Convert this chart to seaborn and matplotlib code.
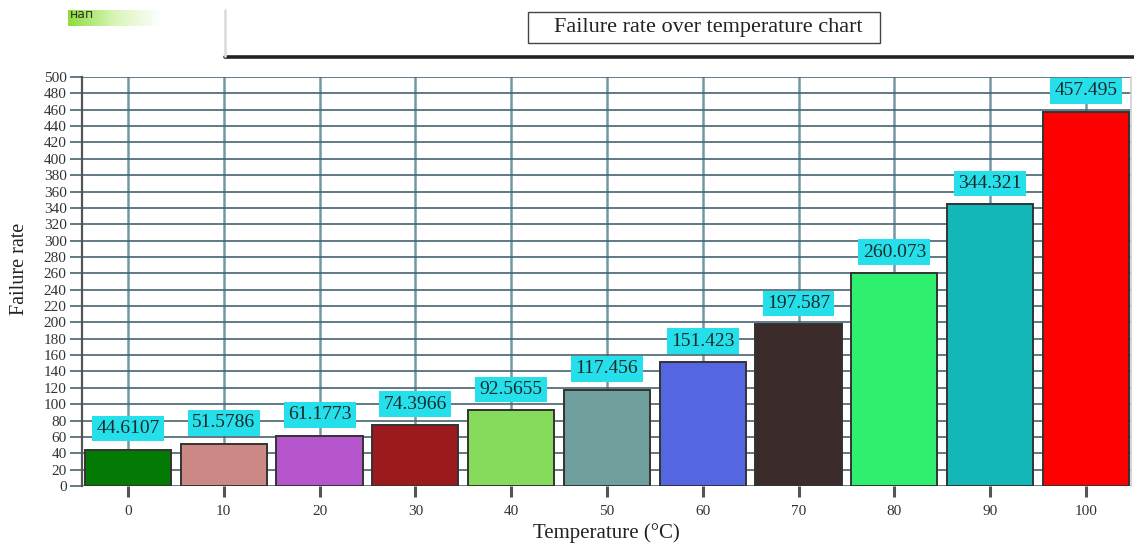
import numpy as np
import pandas as pd
import matplotlib
matplotlib.use("Agg")
import matplotlib.pyplot as plt
from matplotlib.patches import Rectangle
from matplotlib.lines import Line2D
import seaborn as sns

# Failure rate measured at each temperature step
temperatures = ["0", "10", "20", "30", "40", "50", "60", "70", "80", "90", "100"]
failure_rates = [44.6107, 51.5786, 61.1773, 74.3966, 92.5655, 117.456,
                 151.423, 197.587, 260.073, 344.321, 457.495]
bar_colors = ["#037a03", "#cc8884", "#b556cc", "#9c191d", "#86dc5a", "#6f9f9c",
              "#5467e0", "#3c2b2b", "#2ef06e", "#13b7b7", "#ff0000"]
value_labels = ["44.6107", "51.5786", "61.1773", "74.3966", "92.5655", "117.456",
                "151.423", "197.587", "260.073", "344.321", "457.495"]

sns.set_theme(style="white")
plt.rcParams["font.family"] = ["Liberation Serif", "DejaVu Serif"]

df = pd.DataFrame({"Temperature": temperatures, "Failure rate": failure_rates})

W, H = 1134, 543
fig = plt.figure(figsize=(W / 100, H / 100), dpi=100)
ax = fig.add_axes([82 / W, 57 / H, (1131 - 82) / W, (486 - 77) / H])

sns.barplot(data=df, x="Temperature", y="Failure rate", hue="Temperature",
            palette=bar_colors, legend=False, width=0.9, saturation=1,
            edgecolor="#333333", linewidth=1.4, ax=ax, zorder=3)

ax.set_xlim(-0.48, 10.47)
ax.set_ylim(0, 500)
ax.set_yticks(np.arange(0, 501, 20))

# grid: horizontal lines every 20, vertical lines through each category
ax.set_axisbelow(True)
ax.yaxis.grid(True, color="#45656f", linewidth=1.2)
ax.xaxis.grid(True, color="#7399a6", linewidth=1.8)

for side in ("top", "bottom"):
    ax.spines[side].set_visible(False)
ax.spines["left"].set_color("#555555")
ax.spines["left"].set_linewidth(1.6)
ax.spines["right"].set_color("#d0d0d0")
ax.spines["right"].set_linewidth(1.2)

ax.tick_params(axis="y", direction="out", length=9, width=1.2, color="#45656f",
               labelsize=11, labelcolor="#333333", pad=2, left=True)
ax.tick_params(axis="x", direction="out", length=8, width=2.2, color="#555555",
               labelsize=11, labelcolor="#333333", pad=6, bottom=True)

ax.set_xlabel("Temperature (°C)", fontsize=15, color="#222222", labelpad=3)
ax.set_ylabel("Failure rate", fontsize=14.5, color="#222222")
ax.yaxis.set_label_coords(-0.0505, 0.53)

# value labels in cyan boxes above each bar
for i, (v, txt) in enumerate(zip(failure_rates, value_labels)):
    ax.annotate(txt, xy=(i, v), xytext=(0, 9), textcoords="offset points",
                ha="center", va="bottom", fontsize=14, color="#1a2a2a",
                bbox=dict(boxstyle="square,pad=0.22", facecolor="#25e0ea",
                          edgecolor="none"), zorder=5)

# header decorations
fig.add_artist(Line2D([225 / W, 1134 / W], [1 - 57 / H, 1 - 57 / H],
                      color="#222222", linewidth=2.6))
fig.add_artist(Line2D([225 / W, 225 / W], [1 - 10 / H, 1 - 56 / H],
                      color="#dddddd", linewidth=2))
fig.add_artist(Rectangle((528 / W, 1 - 43 / H), (880 - 528) / W, 31 / H,
                         transform=fig.transFigure, facecolor="white",
                         edgecolor="#444444", linewidth=1))
fig.text(708 / W, 1 - 27.5 / H, "Failure rate over temperature chart",
         ha="center", va="center", fontsize=16, color="#222222")

# faded green tab in the upper left corner
grad_ax = fig.add_axes([68 / W, 1 - 26 / H, (162 - 68) / W, 16 / H])
grad = np.linspace(0, 1, 256).reshape(1, -1)
cmap = matplotlib.colors.LinearSegmentedColormap.from_list(
    "tab", ["#8fdc3a", "#d8f5b8", "#ffffff"])
grad_ax.imshow(grad, aspect="auto", cmap=cmap, extent=[0, 1, 0, 1])
grad_ax.set_axis_off()
grad_ax.text(0.02, 0.75, "нап", fontsize=9, color="#333333", va="center",
             ha="left", family="DejaVu Sans", transform=grad_ax.transAxes)

fig.savefig("out.png", dpi=100)
